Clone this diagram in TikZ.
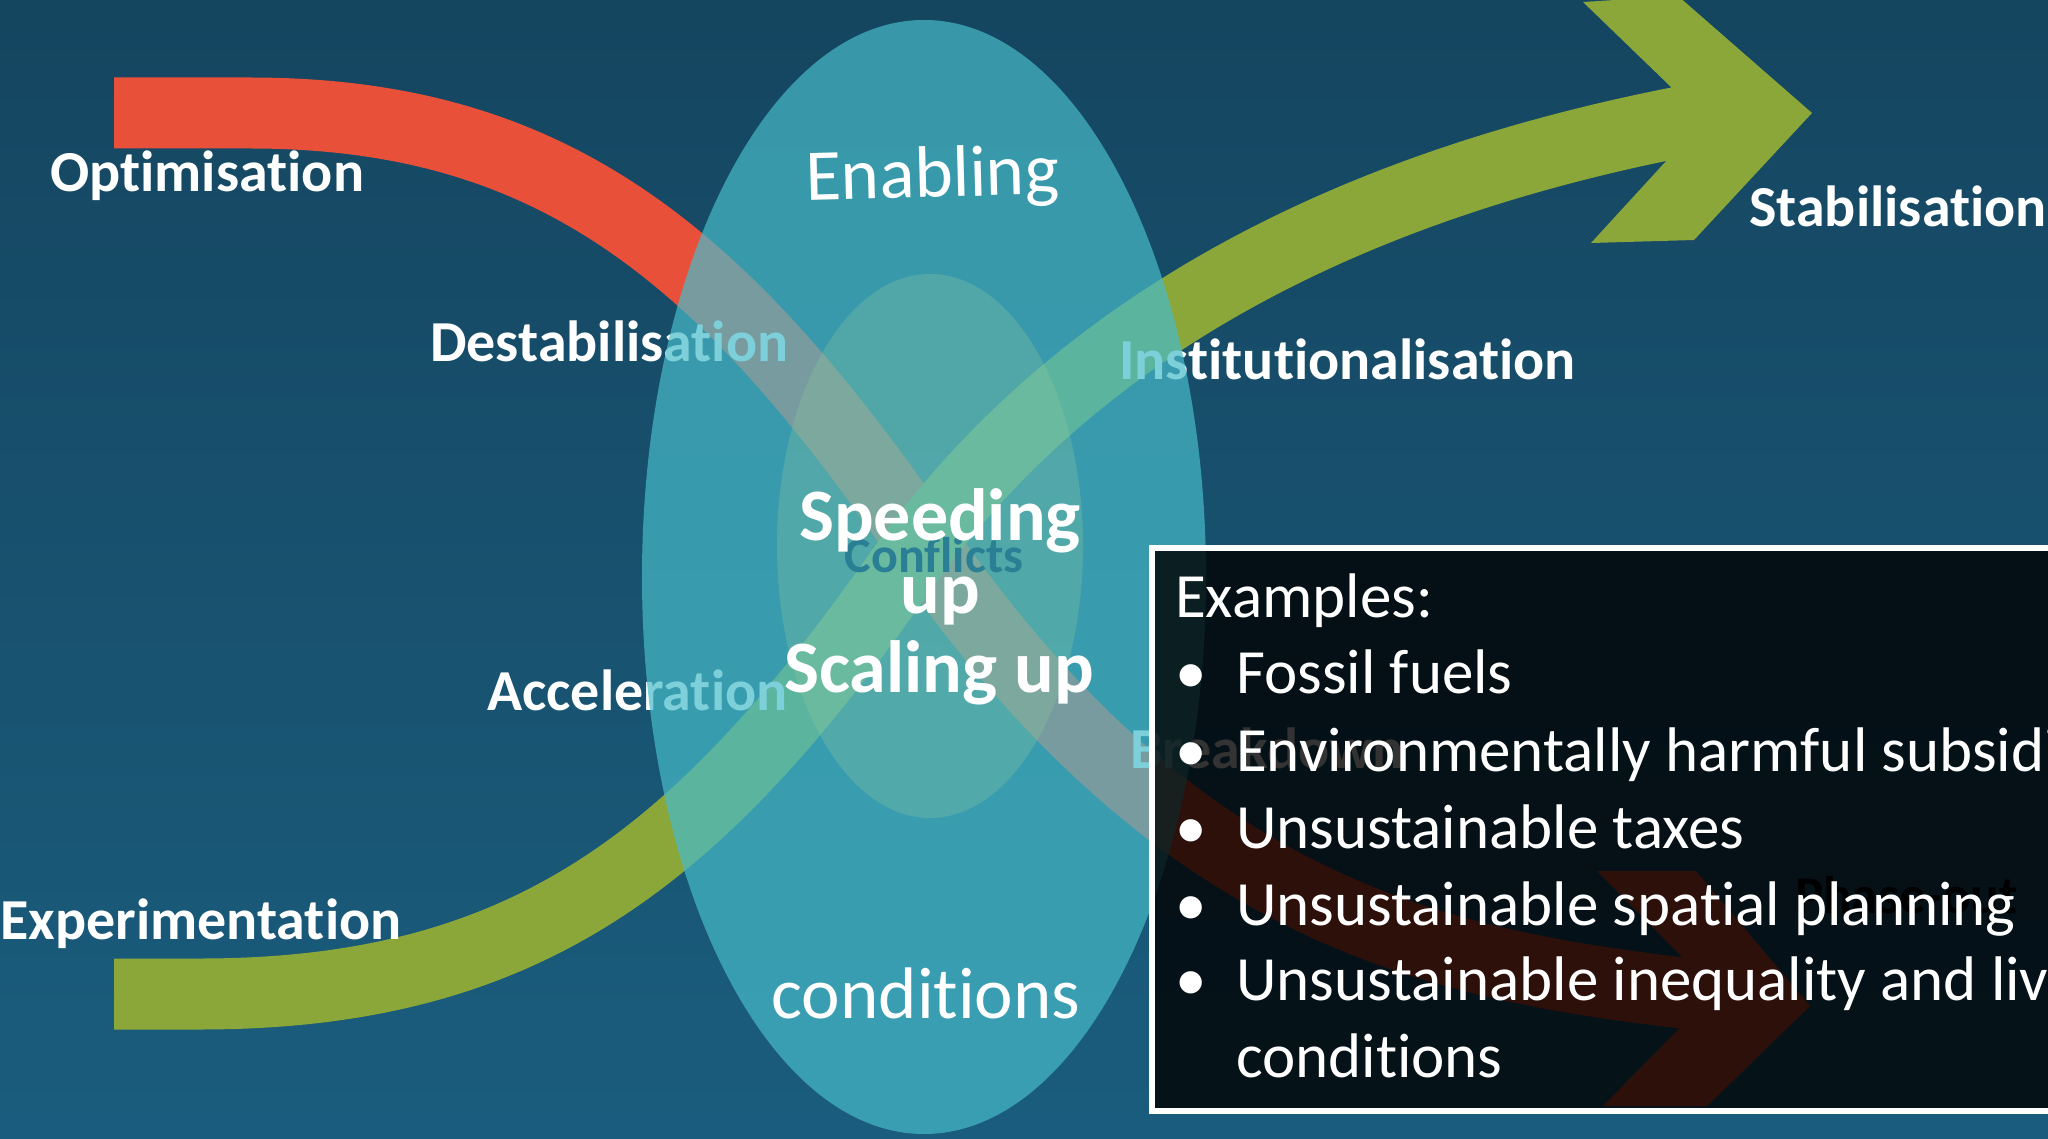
\documentclass[tikz,border=0pt]{standalone}
\usepackage{fontspec}
\setmainfont{Carlito}[Ligatures=NoCommon]
\definecolor{bgtop}{HTML}{123A51}
\definecolor{bgbot}{HTML}{1D688C}
\definecolor{bandred}{HTML}{E9503A}
\definecolor{bandgreen}{HTML}{8BA73A}
\definecolor{ellcol}{HTML}{47BBC9}
\definecolor{innercol}{HTML}{8CC8A0}
\definecolor{conflictcol}{HTML}{2A7F94}
\newcommand\setfs[1]{\fontsize{#1}{#1}\selectfont}
\begin{document}
\begin{tikzpicture}[x=1pt,y=-1pt,
  lbl/.style={inner sep=0pt, anchor=base west, text=white, font=\setfs{58}\bfseries},
  centre/.style={inner sep=0pt, anchor=base, text=white, font=\setfs{74}\bfseries},
  arcword/.style={inner sep=0pt, anchor=base, text=white, font=\setfs{73}},
  boxline/.style={inner sep=0pt, anchor=base west, text=white, font=\setfs{63}},
  bandline/.style={line width=71pt, line cap=butt},
  ]
\useasboundingbox (0,0) rectangle (2048,1139);
\begin{scope}
\clip (0,0) rectangle (2048,1139);
% background
\shade[top color=bgtop, bottom color=bgbot] (0,-570) rectangle (2048,1709);

% red band (optimisation -> phase-out)
\draw[bandline, bandred] (114,113) -- (250,113) .. controls (550,113) and (720,250) .. (920,540) .. controls (1180,917) and (1440,964) .. (1690,994);
\fill[bandred] (1597,871) -- (1696,871) -- (1810,1006) -- (1707,1106) -- (1603,1106) -- (1680,1028) -- (1681,956) -- cycle;

% green band (experimentation -> stabilisation)
\draw[bandline, bandgreen] (114,994) -- (200,994) .. controls (530,994) and (700,856) .. (900,572) .. controls (1070,331) and (1340,187) .. (1690,120);
\fill[bandgreen] (1583,2) -- (1678,-4) -- (1812,113) -- (1694,240) -- (1591,243) -- (1668,159) -- (1671,87) -- cycle;

% labels (above the bands, beneath the ellipse)
\node[lbl] (opt) at (50,192) {Optimisation};
\node[lbl] (destab) at (430,362) {Destabilisation};
\node[lbl] (accel) at (487,710) {Acceleration};
\node[lbl] (exper) at (0,939) {Experimentation};
\node[lbl] (inst) at (1119,380) {Institutionalisation};
\node[lbl] (stab) at (1749,227) {Stabilisation};
\node[lbl] (brk) at (1130,768) {Breakdown};

% ellipses
\fill[ellcol, opacity=0.7] (924,577) ellipse [x radius=282pt, y radius=557pt];
\fill[innercol, opacity=0.3] (930,546) ellipse [x radius=153pt, y radius=272pt];

% texts on the ellipse
\node[inner sep=0pt, anchor=base, text=conflictcol, font=\setfs{50}\bfseries] (confl) at (934,572) {Conflicts};
\node[centre] (speed) at (940,540) {Speeding};
\node[centre] (up) at (940,613) {up};
\node[centre] (scale) at (939,692) {Scaling up};
\node[arcword, rotate=1.5] (enab) at (933,197) {Enabling};
\node[arcword] (cond) at (926,1018) {conditions};

% label beneath the box
\node[lbl, text=black, font=\setfs{53}\bfseries] (phase) at (1795,913) {Phase-out};

% examples box
\path[fill=black, fill opacity=0.8, draw=white, line width=6pt] (1152,548) rectangle (2080,1111);
\node[boxline] (ex0) at (1175,617) {Examples:};
\node[boxline] (b1) at (1175,693) {•};
\node[boxline] (ex1) at (1236,693) {Fossil fuels};
\node[boxline] (b2) at (1175,771) {•};
\node[boxline] (ex2) at (1236,771) {Environmentally harmful subsidies};
\node[boxline] (b3) at (1175,848) {•};
\node[boxline] (ex3) at (1236,848) {Unsustainable taxes};
\node[boxline] (b4) at (1175,925) {•};
\node[boxline] (ex4) at (1236,925) {Unsustainable spatial planning};
\node[boxline] (b5) at (1175,1000) {•};
\node[boxline] (ex5) at (1236,1000) {Unsustainable inequality and living};
\node[boxline] (ex6) at (1236,1077) {conditions};
\end{scope}
\end{tikzpicture}
\end{document}
